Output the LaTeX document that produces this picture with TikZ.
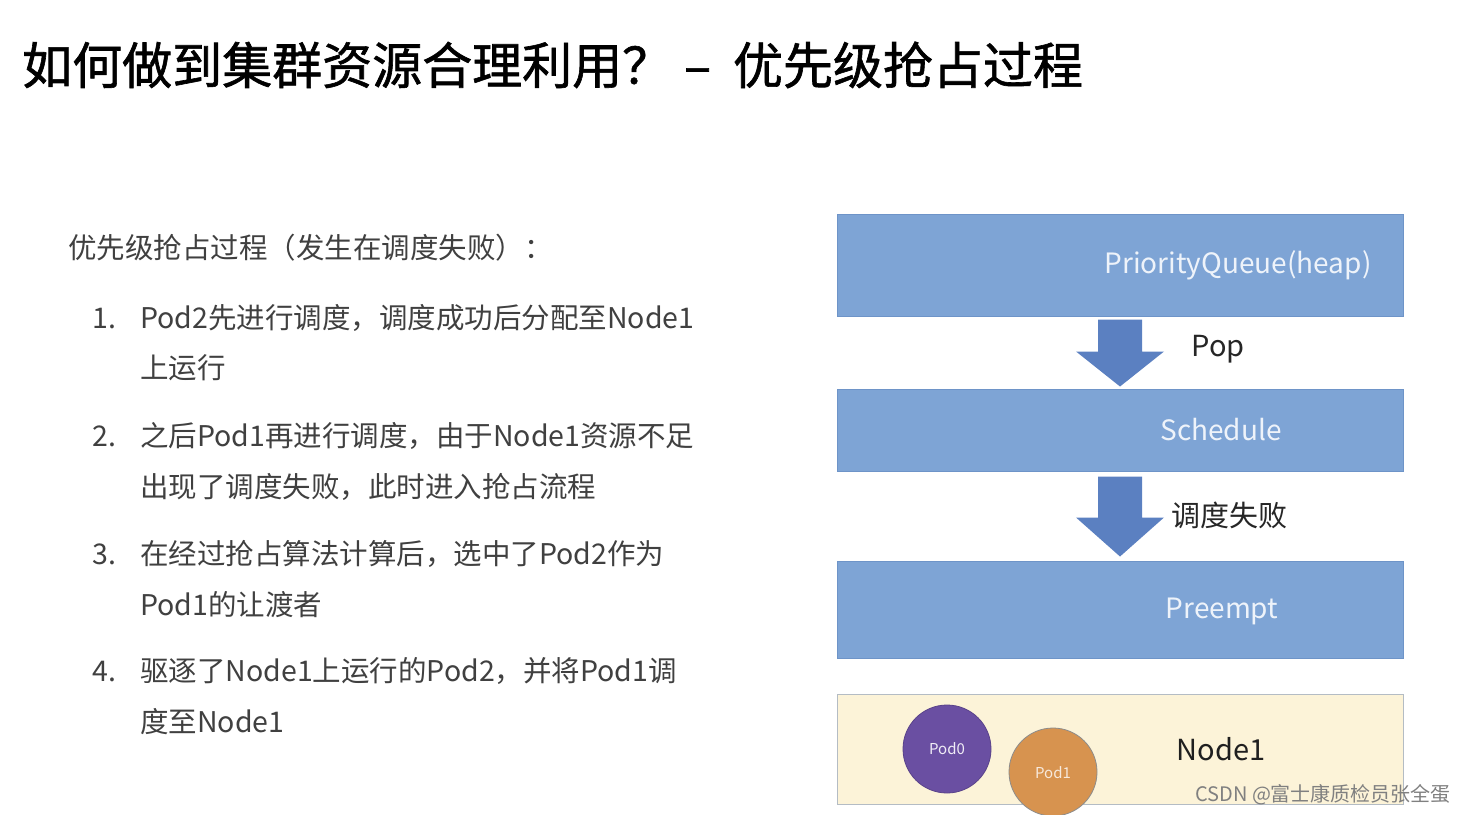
\documentclass[tikz,border=0pt]{standalone}
\usepackage{fontspec}
\setmainfont{Noto Sans CJK SC}
\newfontfamily\titlefont[FakeBold=1.2]{Noto Sans CJK SC}
\usetikzlibrary{calc}
\definecolor{boxblue}{HTML}{7EA4D5}
\definecolor{boxedge}{HTML}{6E94C8}
\definecolor{arrblue}{HTML}{5B80C1}
\definecolor{boxtext}{HTML}{EEF3FA}
\definecolor{nodefill}{HTML}{FCF3D8}
\definecolor{nodeedge}{HTML}{B4BCC4}
\definecolor{podpurple}{HTML}{6A4FA2}
\definecolor{podorange}{HTML}{D7934F}
\definecolor{bodytext}{HTML}{404040}
\tikzset{
  stagebox/.style={draw=boxedge, line width=1pt, fill=boxblue, minimum width=566pt, inner sep=0pt},
  stagelabel/.style={text=boxtext, font=\fontsize{28}{34}\selectfont, inner sep=0pt},
  sidelabel/.style={text=black!85, font=\fontsize{29}{34}\selectfont, inner sep=0pt},
  bodyline/.style={anchor=base west, text=bodytext, font=\fontsize{28.5}{34}\selectfont, inner sep=0pt},
  blockarr/.style={fill=arrblue, draw=none},
  podcircle/.style={circle, minimum size=88pt, inner sep=0pt, line width=0.8pt},
}
\begin{document}
\begin{tikzpicture}[x=1pt,y=-1pt]
\fill[white] (0,0) rectangle (1461,814);
\useasboundingbox (0,0) rectangle (1461,814);

% title
\node[anchor=base west, inner sep=0pt, font=\fontsize{50}{60}\selectfont\titlefont, text=black] (title) at (22,84) {如何做到集群资源合理利用？\hspace{12pt}–\hspace{22pt}优先级抢占过程};

% left text
\node[bodyline] (intro) at (68,258) {优先级抢占过程（发生在调度失败）：};
\node[bodyline] (n1) at (92,328) {1.};
\node[bodyline] (l1a) at (140,328) {Pod2先进行调度，调度成功后分配至Node1};
\node[bodyline] (l1b) at (140,378) {上运行};
\node[bodyline] (n2) at (92,446) {2.};
\node[bodyline] (l2a) at (140,446) {之后Pod1再进行调度，由于Node1资源不足};
\node[bodyline] (l2b) at (140,497) {出现了调度失败，此时进入抢占流程};
\node[bodyline] (n3) at (92,564) {3.};
\node[bodyline] (l3a) at (140,564) {在经过抢占算法计算后，选中了Pod2作为};
\node[bodyline] (l3b) at (140,615) {Pod1的让渡者};
\node[bodyline] (n4) at (92,681) {4.};
\node[bodyline] (l4a) at (140,681) {驱逐了Node1上运行的Pod2，并将Pod1调};
\node[bodyline] (l4b) at (140,732) {度至Node1};

% right diagram
\node[stagebox, minimum height=102pt] (pq) at (1120,265) {};
\node[stagelabel] (pqt) at (1238,265) {PriorityQueue(heap)};
\node[stagebox, minimum height=82pt] (sch) at (1120,430) {};
\node[stagelabel] (scht) at (1221,430) {Schedule};
\node[stagebox, minimum height=97pt] (pre) at (1120,609.5) {};
\node[stagelabel] (pret) at (1222,611) {Preempt};

% block arrows
\path[blockarr] let \p1=($(pq.south)+(0,3)$), \p2=($(sch.north)+(0,-2)$) in
  (\x1-22,\y1) -- (\x1+22,\y1) -- (\x1+22,\y2+35) -- (\x1+44,\y2+35) -- (\x1,\y2)
  -- (\x1-44,\y2+35) -- (\x1-22,\y2+35) -- cycle;
\path[blockarr] let \p1=($(sch.south)+(0,5)$), \p2=($(pre.north)+(0,-4)$) in
  (\x1-22,\y1) -- (\x1+22,\y1) -- (\x1+22,\y2+39) -- (\x1+44,\y2+39) -- (\x1,\y2)
  -- (\x1-44,\y2+39) -- (\x1-22,\y2+39) -- cycle;
\node[sidelabel] (pop) at (1218,349) {Pop};
\node[sidelabel] (fail) at (1229,515) {调度失败};

% node1 box
\node[draw=nodeedge, fill=nodefill, line width=1pt, minimum width=566pt, minimum height=110pt, inner sep=0pt] (node1) at (1120,749) {};
\node[text=black!88, font=\fontsize{29}{34}\selectfont, inner sep=0pt] (node1t) at (1221,749) {Node1};
\node[podcircle, fill=podpurple, draw=podpurple!85!black] (pod0) at (947,749) {};
\node[text=white!90!podpurple, font=\fontsize{15}{18}\selectfont, inner sep=0pt] (pod0t) at (947,749) {Pod0};
\node[podcircle, fill=podorange, draw=black!45] (pod1) at (1053,772) {};
\node[text=white!80!podorange, font=\fontsize{15}{18}\selectfont, inner sep=0pt] (pod1t) at (1053,773) {Pod1};

% watermark
\node[anchor=base west, text=black!50, font=\fontsize{20}{24}\selectfont, inner sep=0pt] (wm) at (1195,801) {CSDN @富士康质检员张全蛋};
\end{tikzpicture}
\end{document}
